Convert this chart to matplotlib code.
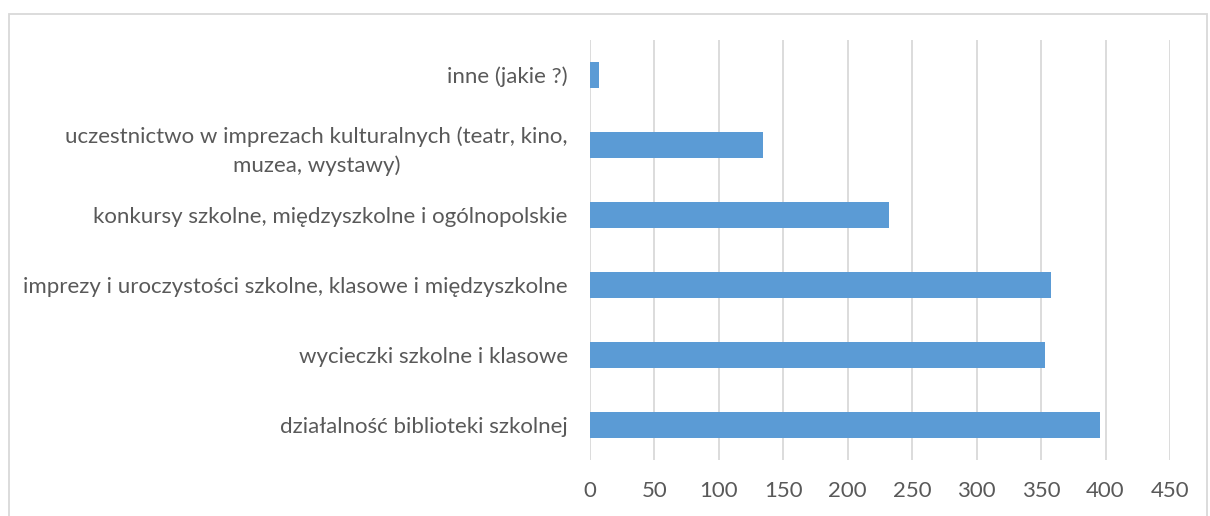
import matplotlib.pyplot as plt
from matplotlib.patches import Rectangle

# categories bottom to top
categories = [
    "działalność biblioteki szkolnej",
    "wycieczki szkolne i klasowe",
    "imprezy i uroczystości szkolne, klasowe i międzyszkolne",
    "konkursy szkolne, międzyszkolne i ogólnopolskie",
    "uczestnictwo w imprezach kulturalnych (teatr, kino,\nmuzea, wystawy)",
    "inne (jakie ?)",
]
values = [396, 353, 358, 232, 134, 7]
xticks = [0, 50, 100, 150, 200, 250, 300, 350, 400, 450]

text_color = "#595959"
plt.rcParams['font.family'] = ['Lato', 'DejaVu Sans']

fig = plt.figure(figsize=(12.1, 5.16), dpi=100)
ax = fig.add_axes([590/1210, 1 - 460/516, 580/1210, 420/516])

ax.barh(range(len(values)), values, height=0.36, color="#5B9BD5", zorder=3)
ax.set_xlim(0, 450)
ax.set_ylim(-0.5, len(values) - 0.5)
ax.set_xticks(xticks)
ax.set_xticklabels([str(t) for t in xticks])
ax.set_yticks(range(len(categories)))
ax.set_yticklabels(categories, multialignment='center', linespacing=1.5)
ax.grid(axis='x', color="#D9D9D9", linewidth=1.3, zorder=0)
ax.tick_params(length=0, colors=text_color, labelsize=16)
ax.tick_params(axis='x', pad=15)
ax.tick_params(axis='y', pad=16)
for s in ax.spines.values():
    s.set_visible(False)

# chart frame
fig.patches.append(Rectangle((9/1210, -0.1), (1207 - 9)/1210, 1.1 - 14/516,
                             transform=fig.transFigure, fill=False,
                             edgecolor="#D9D9D9", linewidth=1.3))

fig.savefig("out.png", dpi=100)
